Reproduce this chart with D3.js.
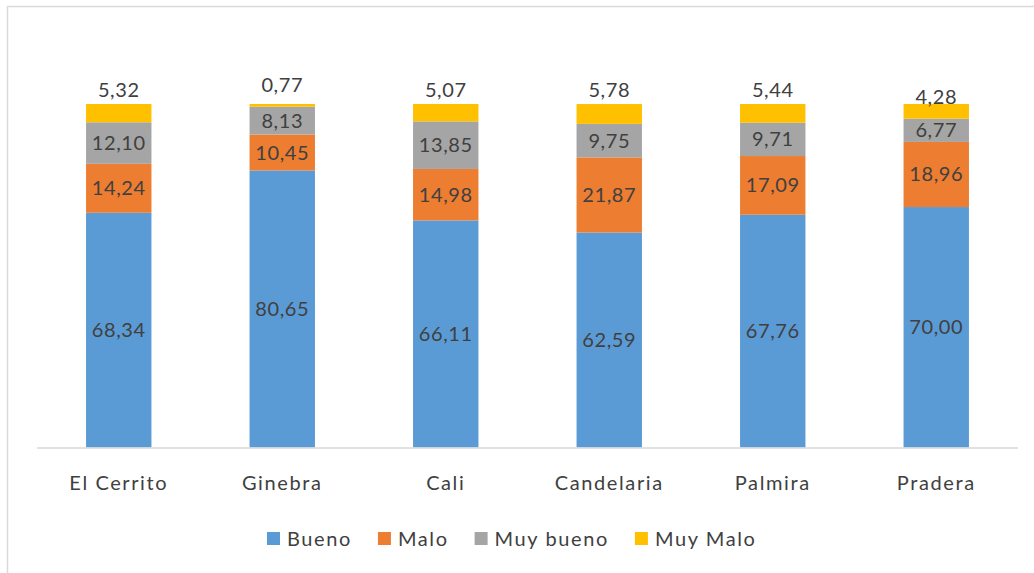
<!DOCTYPE html>
<html>
<head>
<meta charset="utf-8">
<script src="https://cdn.jsdelivr.net/npm/d3@7"></script>
<style>
  body { margin: 0; background: #fff; }
  text { font-family: Lato, "Noto Sans", sans-serif; fill: #404040; }
</style>
</head>
<body>
<main></main>
<script>
// Data (percent per municipality)
const categories = ['El Cerrito', 'Ginebra', 'Cali', 'Candelaria', 'Palmira', 'Pradera'];
const seriesNames = ['Bueno', 'Malo', 'Muy bueno', 'Muy Malo'];
const bueno    = [68.34, 80.65, 66.11, 62.59, 67.76, 70.00];
const malo     = [14.24, 10.45, 14.98, 21.87, 17.09, 18.96];
const muyBueno = [12.10,  8.13, 13.85,  9.75,  9.71,  6.77];
const muyMalo  = [ 5.32,  0.77,  5.07,  5.78,  5.44,  4.28];
const colors = ['#5B9BD5', '#ED7D31', '#A5A5A5', '#FFC000'];
// vertical nudge of the top labels (px above the bar)
const topLabelGap = [14, 19, 14, 14, 14, 7];

const width = 1034, height = 573;
const svg = d3.select('main').append('svg')
    .attr('width', width)
    .attr('height', height);

// chart frame (only top and left edge visible in the crop)
svg.append('path')
    .attr('d', 'M7.5,573 V6.5 H1034')
    .attr('fill', 'none')
    .attr('stroke', '#d9d9d9')
    .attr('stroke-width', 1.5);

const margin = {left: 37, right: 16, top: 104, bottom: 126};
const x = d3.scaleBand()
    .domain(categories)
    .range([margin.left, width - margin.right])
    .paddingInner(0.6)
    .paddingOuter(0.3);
const y = d3.scaleLinear()
    .domain([0, 100])
    .range([height - margin.bottom + 0.5, margin.top]);

const rows = categories.map((c, i) => ({
    cat: c,
    'Bueno': bueno[i], 'Malo': malo[i], 'Muy bueno': muyBueno[i], 'Muy Malo': muyMalo[i]
}));
const stacked = d3.stack().keys(seriesNames)(rows);

const fmt = v => d3.format('.2f')(v).replace('.', ',');

const layers = svg.selectAll('g.layer')
    .data(stacked)
    .enter().append('g')
    .attr('class', 'layer')
    .attr('fill', (d, i) => colors[i]);

layers.selectAll('rect')
    .data(d => d)
    .enter().append('rect')
    .attr('x', d => x(d.data.cat))
    .attr('width', x.bandwidth())
    .attr('y', d => y(d[1]))
    .attr('height', d => y(d[0]) - y(d[1]));

// axis line
svg.append('line')
    .attr('x1', margin.left).attr('x2', width - margin.right)
    .attr('y1', y(0) + 0.5).attr('y2', y(0) + 0.5)
    .attr('stroke', '#d9d9d9')
    .attr('stroke-width', 1.5);

// data labels, centered in segments (top series sits above bar)
stacked.forEach((layer, li) => {
    svg.append('g').selectAll('text')
        .data(layer)
        .enter().append('text')
        .attr('x', d => x(d.data.cat) + x.bandwidth() / 2)
        .attr('y', (d, i) => li === stacked.length - 1
            ? y(d[1]) - topLabelGap[i]
            : (y(d[0]) + y(d[1])) / 2)
        .attr('dy', '0.35em')
        .attr('text-anchor', 'middle')
        .style('font-size', '20px')
        .style('letter-spacing', '0.6px')
        .text(d => fmt(d[1] - d[0]));
});

// category labels
svg.append('g').selectAll('text')
    .data(categories)
    .enter().append('text')
    .attr('x', d => x(d) + x.bandwidth() / 2)
    .attr('y', 483)
    .attr('dy', '0.35em')
    .attr('text-anchor', 'middle')
    .style('font-size', '20px')
    .style('letter-spacing', '1.6px')
    .text(d => d);

// legend
const legend = svg.append('g');
let lx = 267;
seriesNames.forEach((name, i) => {
    legend.append('rect')
        .attr('x', lx).attr('y', 532)
        .attr('width', 13).attr('height', 13)
        .attr('fill', colors[i]);
    const t = legend.append('text')
        .attr('x', lx + 20).attr('y', 539)
        .attr('dy', '0.35em')
        .style('font-size', '20px')
        .style('letter-spacing', '1.6px')
        .text(name);
    lx += 20 + t.node().getComputedTextLength() + 26;
});
</script>
</body>
</html>
